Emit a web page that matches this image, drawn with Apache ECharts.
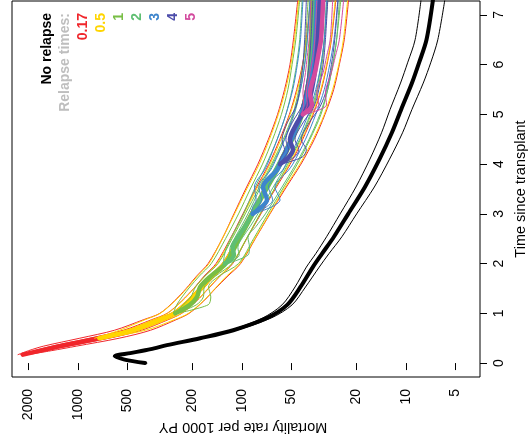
<!DOCTYPE html>
<html><head><meta charset="utf-8">
<script src="https://cdn.jsdelivr.net/npm/echarts@6/dist/echarts.min.js"></script>
<style>html,body{margin:0;padding:0;background:#fff}#c{width:530px;height:437px}</style>
</head><body><div id="c"></div>
<script>
// Tick labels and texts
const rateTicks = [2000, 1000, 500, 200, 100, 50, 20, 10, 5];
const timeTicks = [0, 1, 2, 3, 4, 5, 6, 7];
const rateTitle = 'Mortality rate per 1000 PY';
const timeTitle = 'Time since transplant';
const legendTitle = 'No relapse';
const legendSub = 'Relapse times:';
const relapseLabels = ['0.17', '0.5', '1', '2', '3', '4', '5'];
const relapseColors = ['#F0262B', '#FFD500', '#78BE45', '#5FBF72', '#3E85CD', '#4D4DAA', '#D34A9E'];

// No relapse (time, mortality rate per 1000 PY)
const nrT   = [0, 0.07, 0.14, 0.2, 0.28, 0.36, 0.5, 0.66, 0.91, 1.17, 1.53, 1.93, 2.2, 2.54, 3.0, 3.54, 4.1, 4.63, 5.1, 5.63, 6.05, 6.5, 7.3];
const nrMid = [390, 520, 595, 480, 360, 287, 180, 113, 70, 53, 44, 37, 32.5, 27.5, 22.5, 17.8, 14.5, 12.2, 10.7, 9.2, 8.3, 7.5, 6.85];
const nrHi  = [400, 535, 612, 497, 373, 298, 187, 118, 74.5, 57, 47.5, 40.5, 35.5, 30.5, 25.2, 20.2, 16.6, 14.1, 12.5, 10.8, 9.75, 8.8, 8.1];
const nrLo  = [380, 506, 578, 463, 347, 276, 173, 108, 66, 49.5, 41, 33.8, 29.5, 24.6, 20.0, 15.6, 12.6, 10.5, 9.2, 7.85, 7.05, 6.4, 5.8];

// Relapse at 0.17
const t017 = [0.17, 0.25, 0.34, 0.5, 0.66, 0.87, 1.0, 1.25, 1.5, 1.75, 2.0, 2.5, 3.0, 3.5, 4.0, 4.5, 5.0, 5.5, 6.0, 6.5, 7.3];
const thick017 = [2165, 1700, 1290, 740, 465, 318, 258, 210, 178, 152, 128, 105, 87, 72, 59, 50, 43.5, 40, 37.5, 36, 35];
const thinA017 = [2321, 1998, 1624, 975, 599, 400, 317, 258, 219, 189, 161, 132, 112, 95, 80, 69, 60.7, 55, 51, 48.6, 45.7];
const thinB017 = [2241, 1843, 1447, 850, 528, 357, 286, 233, 197, 170, 144, 118, 98.7, 82.7, 68.5, 58.8, 51.4, 46.4, 42.8, 40.6, 38.2];
const thinC017 = [2092, 1568, 1150, 645, 410, 283, 233, 189, 160, 136, 114, 93.6, 76.7, 62.7, 50.8, 42.6, 36.8, 32.8, 30.3, 28.5, 26.8];
const thinD017 = [2020, 1447, 1025, 561, 361, 253, 210, 171, 145, 122, 102, 83, 67.5, 54.6, 43.7, 36.2, 31.2, 27.6, 25.5, 23.8, 22.4];

// Relapse at 0.5
const t05 = [0.5, 0.66, 0.87, 1.0, 1.25, 1.5, 1.75, 2.0, 2.5, 3.0, 3.5, 4.0, 4.5, 5.0, 5.5, 6.0, 6.5, 7.3];
const thick05 = [740, 465, 318, 258, 210, 178, 152, 128, 105, 87, 72, 59, 50, 43.5, 40, 37.5, 36, 35];
const thinA05 = [792, 558, 391, 315, 256, 217, 187, 159, 132, 111, 93.6, 78.5, 68, 60, 54.2, 50.4, 47.9, 45.1];
const thinB05 = [760, 505, 350, 284, 231, 196, 168, 142, 117, 97.5, 81.5, 67.5, 57.9, 50.9, 45.9, 42.5, 40.3, 38];
const thinC05 = [720, 425, 288, 234, 190, 161, 137, 115, 94, 77.5, 63.5, 51.5, 43.2, 37.2, 33.1, 30.5, 28.7, 27];
const thinD05 = [692, 388, 259, 212, 172, 146, 124, 103, 83.5, 68, 55.4, 44.4, 36.8, 31.5, 28, 25.7, 24.1, 22.7];

// Relapse at 1
const t1 = [1.0, 1.17, 1.33, 1.53, 1.75, 2.0, 2.5, 3.0, 3.5, 4.0, 4.5, 5.0, 5.5, 6.0, 6.5, 7.3];
const thick1 = [255, 208, 188, 180, 155, 126, 104, 86, 71, 58.5, 49.5, 43, 39.5, 38.5, 37.8, 37];
const thinA1 = [262, 250, 232, 208, 182, 154, 126, 105, 89, 75, 65, 57.5, 52.5, 49.5, 47, 44.5];
const thinB1 = [258, 228, 205, 192, 168, 140, 115, 95.5, 79.5, 66, 56, 49, 45, 42.5, 41, 39.5];
const thinC1 = [252, 190, 172, 170, 145, 115, 94, 77.5, 63.5, 52.5, 44, 38, 34.5, 32.5, 31.5, 30.5];
const thinD1 = [250, 161, 155, 160, 138, 105, 85, 69.5, 56.5, 46, 38.5, 33, 30, 28, 26.5, 25];

// Relapse at 2
const t2 = [2.0, 2.17, 2.33, 2.53, 2.75, 3.0, 3.5, 4.0, 4.5, 5.0, 5.5, 6.0, 6.5, 7.3];
const thick2 = [127, 112, 114, 106, 96, 87, 72, 59.5, 50, 43.5, 40, 38, 37, 36];
const thinA2 = [130, 128, 124, 116, 107, 98, 84, 71, 61, 54, 49.5, 46.5, 44.5, 43];
const thinB2 = [128, 120, 118, 110, 101, 92, 78, 65, 55, 48, 44, 41.5, 40, 38.5];
const thinC2 = [126, 104, 106, 99, 89, 80, 65.5, 53.5, 44.5, 38.5, 35, 33, 31.5, 30];
const thinD2 = [124, 92, 90, 92, 82, 72, 58, 47, 39, 33.5, 30, 28, 26.5, 25.5];

// Relapse at 3
const t3 = [3.0, 3.14, 3.28, 3.54, 3.88, 4.0, 4.5, 5.0, 5.5, 6.0, 6.5, 7.3];
const thick3 = [86, 76, 70.4, 74.5, 61.2, 58.6, 50, 43.5, 39.5, 37, 35.8, 35];
const thinA3 = [88, 86, 82, 84, 73, 70, 61, 54, 49, 46, 44, 42.5];
const thinB3 = [87, 80, 76, 79, 67, 64, 55, 48.5, 44, 41.5, 40, 38.5];
const thinC3 = [85, 71, 65, 69, 56.5, 54, 45.5, 39.5, 35.5, 33, 31.5, 30.5];
const thinD3 = [85, 66, 58.6, 63, 52, 49, 41, 35.5, 31.5, 29.2, 27.5, 26];

// Relapse at 4
const t4 = [4.0, 4.14, 4.29, 4.49, 4.83, 5.15, 5.5, 6.0, 6.5, 7.3];
const thick4 = [58.6, 52, 48.9, 51, 46.2, 40.1, 37.5, 35.5, 34.5, 33.5];
const thinA4 = [60, 58, 55, 57, 53, 47, 44.5, 42.5, 41.5, 40.5];
const thinB4 = [59, 55, 52, 54, 49.5, 43.5, 41, 39, 38, 37];
const thinC4 = [58.3, 48, 45, 47.5, 42.5, 36.5, 34, 32, 31, 30];
const thinD4 = [58, 43, 40.5, 43.5, 39, 33.5, 30.5, 28.5, 27.2, 26];

// Relapse at 5
const t5 = [5.0, 5.19, 5.43, 5.84, 6.16, 6.5, 7.3];
const thick5 = [42.5, 37.5, 38.5, 35.9, 34.4, 33, 32];
const thinA5 = [43.5, 42, 42.5, 41, 40, 39, 38];
const thinB5 = [43, 40, 40.5, 38.5, 37, 36, 35];
const thinC5 = [42.3, 34, 35, 32, 30.5, 29, 28];
const thinD5 = [42, 30.5, 31, 28.5, 27, 25.5, 24];

const groups = [
  [t017, thick017, [thinA017, thinB017, thinC017, thinD017]],
  [t05, thick05, [thinA05, thinB05, thinC05, thinD05]],
  [t1, thick1, [thinA1, thinB1, thinC1, thinD1]],
  [t2, thick2, [thinA2, thinB2, thinC2, thinD2]],
  [t3, thick3, [thinA3, thinB3, thinC3, thinD3]],
  [t4, thick4, [thinA4, thinB4, thinC4, thinD4]],
  [t5, thick5, [thinA5, thinB5, thinC5, thinD5]]
];

const FONT = '"Liberation Sans", Arial, Helvetica, sans-serif';
function mk(ts, vals, color, width) {
  return {
    type: 'line',
    data: ts.map((t, i) => [Math.log10(vals[i]), t]),
    showSymbol: false, symbol: 'none',
    smooth: 0.3,
    clip: true,
    silent: true,
    lineStyle: { color: color, width: width, cap: 'round', join: 'round' },
    animation: false
  };
}

const series = [];
series.push(mk(nrT, nrHi, '#000', 1));
series.push(mk(nrT, nrLo, '#000', 1));
series.push(mk(nrT, nrMid, '#000', 4));
groups.forEach((g, gi) => {
  const col = relapseColors[gi];
  g[2].forEach(v => series.push(mk(g[0], v, col, 1)));
  series.push(mk(g[0], g[1], col, 4.5));
});

const logTicks = rateTicks.map(v => Math.log10(v));
const legendX = [47, 65, 83, 101, 119, 137, 155, 173, 191];
const legendTexts = [legendTitle, legendSub].concat(relapseLabels);
const legendFills = ['#000', '#BEBEBE'].concat(relapseColors);
const graphic = legendTexts.map((txt, i) => ({
  type: 'text',
  x: legendX[i], y: 13,
  rotation: Math.PI / 2,
  silent: true,
  style: {
    text: txt, fill: legendFills[i],
    fontFamily: FONT, fontWeight: 'bold', fontSize: 14,
    align: 'right', verticalAlign: 'middle'
  }
}));
// x-axis title (upside down, as in the rotated original)
graphic.push({
  type: 'text', x: 243, y: 427, rotation: Math.PI, silent: true,
  style: { text: rateTitle, fill: '#000', fontFamily: FONT, fontSize: 14.5, align: 'center', verticalAlign: 'middle' }
});

const chart = echarts.init(document.getElementById('c'), null, { renderer: 'canvas' });
chart.setOption({
  animation: false,
  backgroundColor: '#fff',
  grid: { left: 12, right: 50, top: 1, bottom: 60, show: true, borderColor: '#000', borderWidth: 1, backgroundColor: 'transparent', containLabel: false, outerBoundsMode: 'none' },
  xAxis: {
    type: 'value', position: 'bottom', inverse: true,
    min: 0.5488, max: 3.4024,
    axisLine: { show: false },
    splitLine: { show: false },
    axisTick: { show: true, length: 7, lineStyle: { color: '#000', width: 1 }, customValues: logTicks },
    axisLabel: {
      customValues: logTicks, rotate: 90, margin: 12,
      formatter: v => String(Math.round(Math.pow(10, v))),
      color: '#000', fontSize: 14, fontFamily: FONT
    }
  },
  yAxis: {
    type: 'value', position: 'right',
    min: -0.28, max: 7.28,
    axisLine: { show: false },
    splitLine: { show: false },
    axisTick: { show: true, length: 7, lineStyle: { color: '#000', width: 1 }, customValues: timeTicks },
    axisLabel: { customValues: timeTicks, rotate: 90, margin: 12, color: '#000', fontSize: 14, fontFamily: FONT },
    name: timeTitle, nameLocation: 'middle', nameGap: 33, nameRotate: 90,
    nameTextStyle: { color: '#000', fontSize: 14.5, fontFamily: FONT }
  },
  graphic: graphic,
  series: series
});
</script>
</body></html>
